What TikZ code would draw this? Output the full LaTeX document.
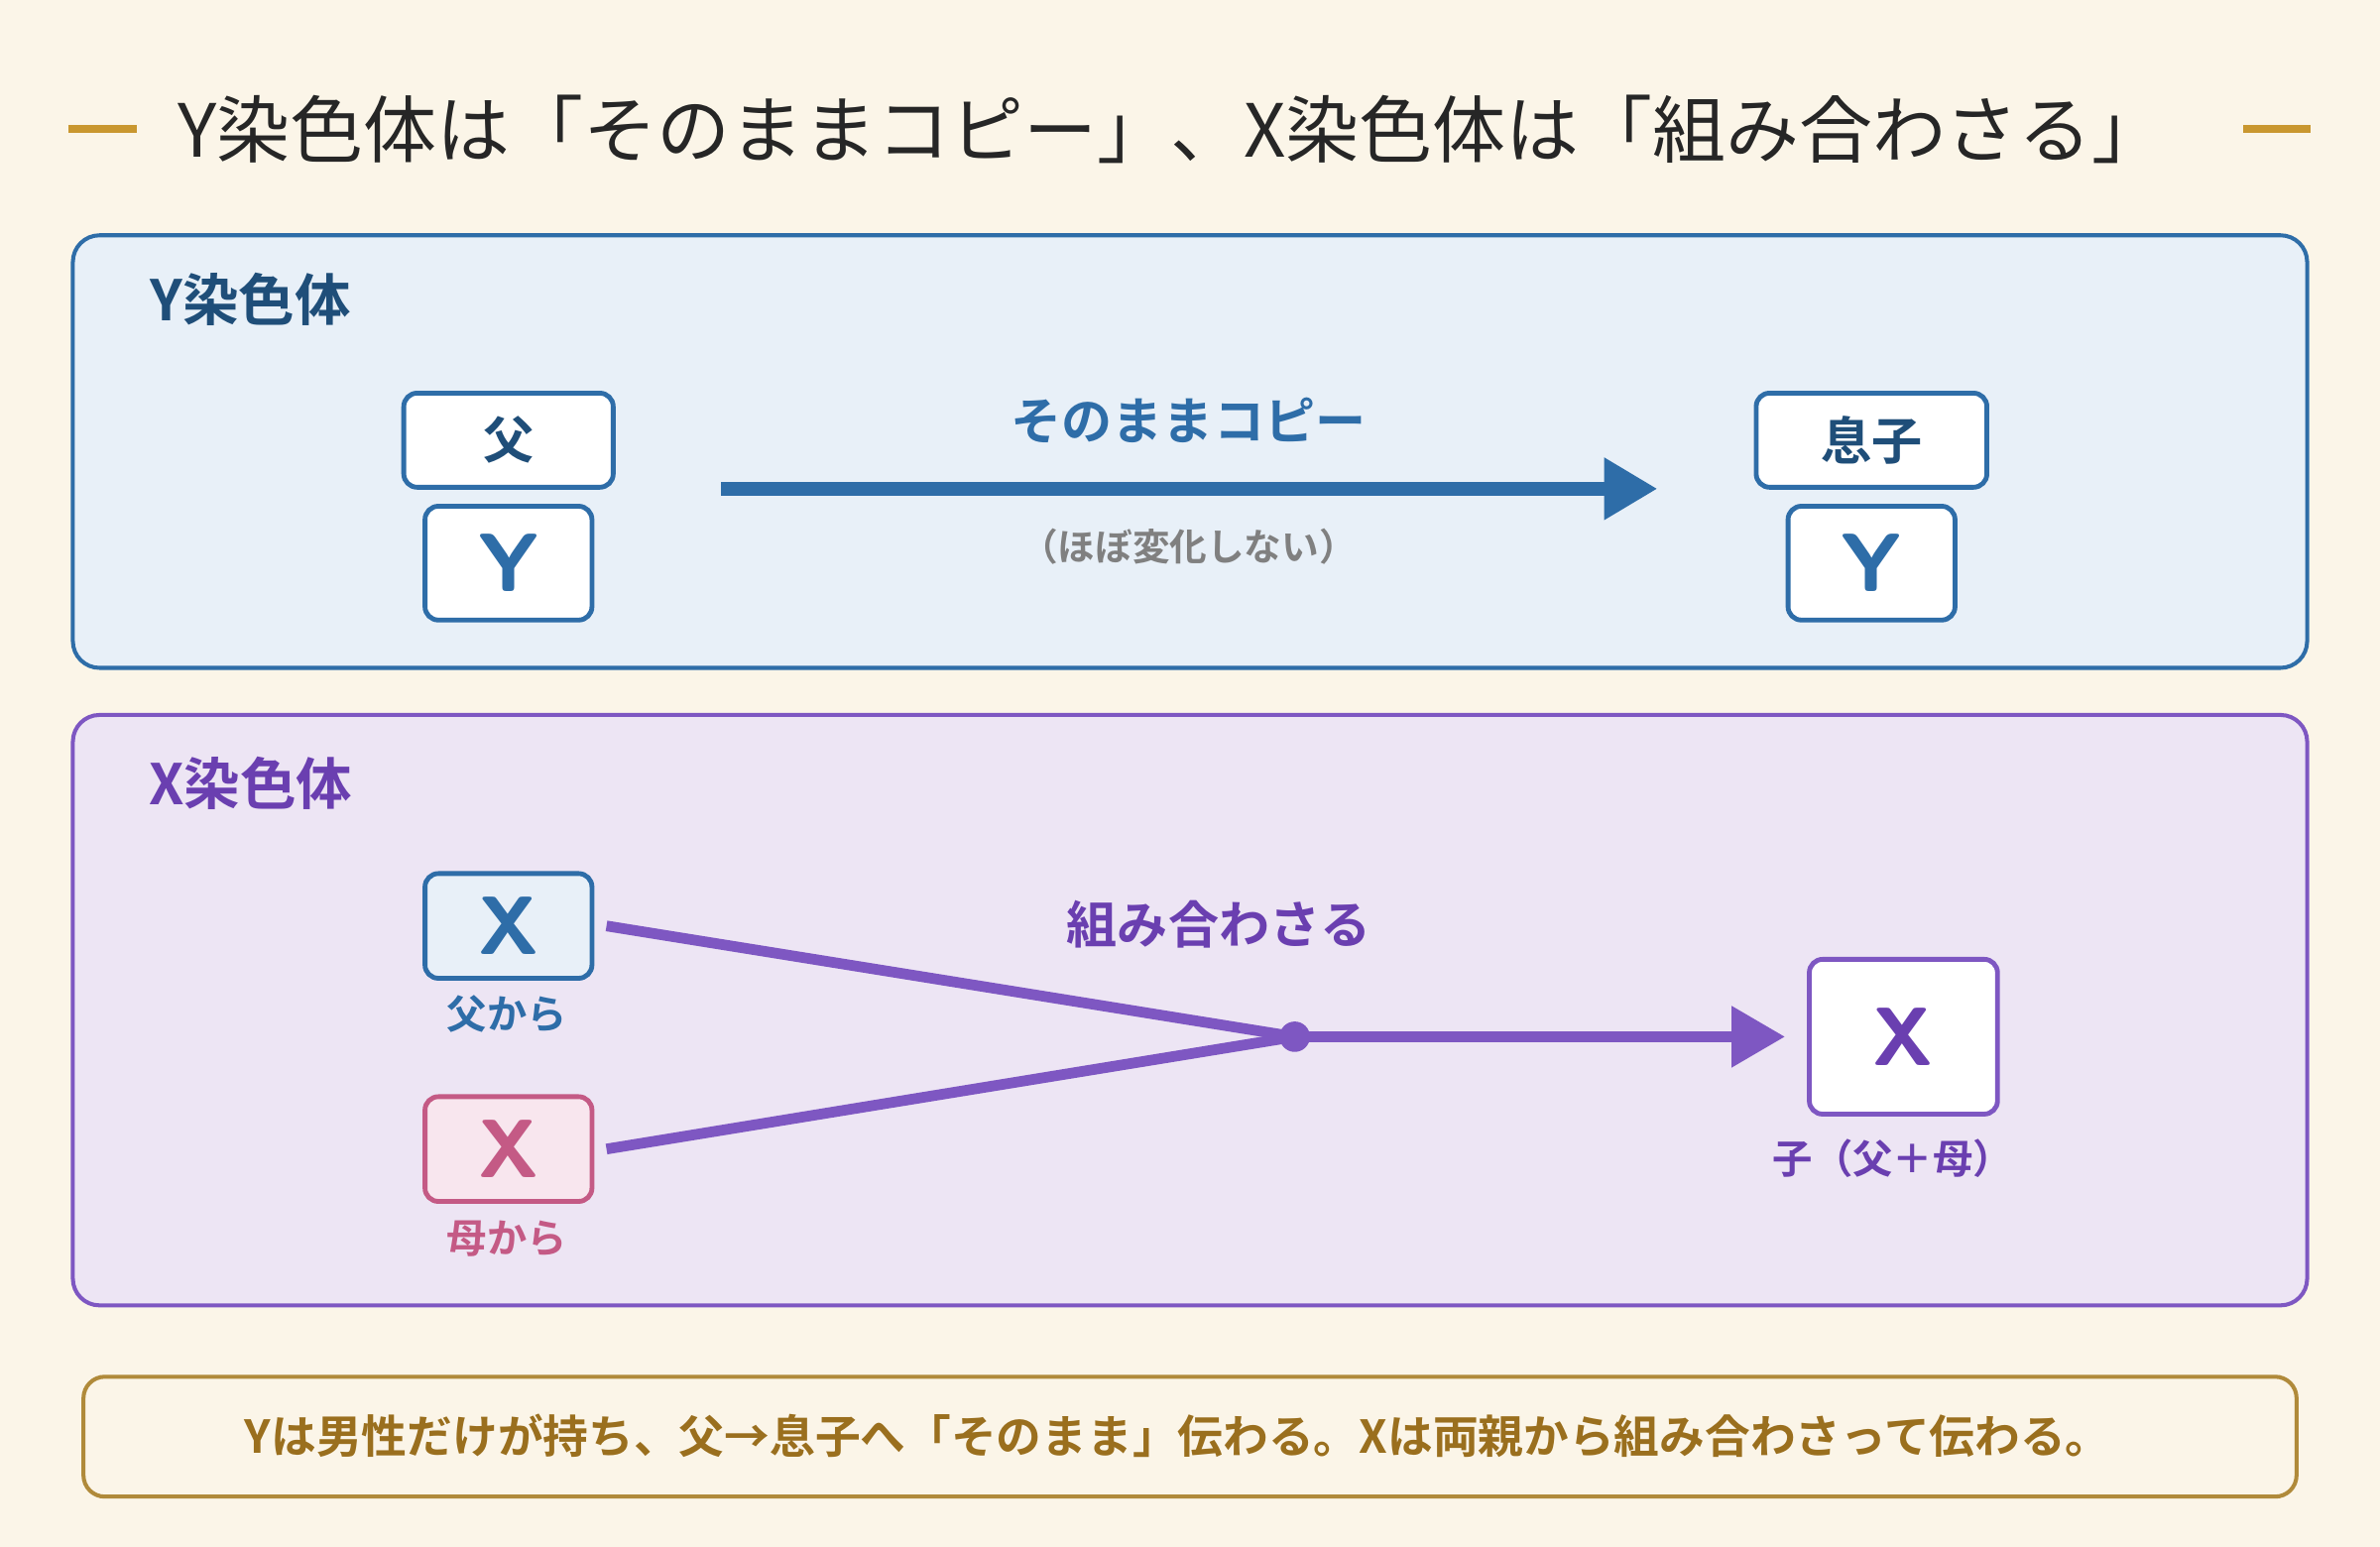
\documentclass[tikz,border=0pt]{standalone}
\usepackage{fontspec}
\setmainfont{Noto Sans CJK JP}
\newfontfamily\jpb{Noto Sans CJK JP Bold}
\usetikzlibrary{arrows.meta}
\definecolor{bg}{HTML}{FBF5E8}
\definecolor{gold}{HTML}{C9972F}
\definecolor{bblue}{HTML}{2E6DA8}
\definecolor{navy}{HTML}{1F4E79}
\definecolor{bfill}{HTML}{E8F0F8}
\definecolor{purp}{HTML}{7E57C2}
\definecolor{dpurp}{HTML}{6A3FB0}
\definecolor{pfill}{HTML}{EDE5F4}
\definecolor{pink}{HTML}{C45A85}
\definecolor{pinkfill}{HTML}{F8E6EE}
\definecolor{brown}{HTML}{9A6F1E}
\definecolor{bborder}{HTML}{B08A3A}
\begin{document}
\begin{tikzpicture}[x=0.02cm,y=-0.02cm,
 box/.style={line width=1.8pt,rounded corners=5pt,fill=white},
 lbl/.style={font=\jpb\fontsize{15}{15}\selectfont},
 big/.style={font=\sffamily\bfseries\fontsize{31}{31}\selectfont}]
\fill[bg] (0,0) rectangle (1568,1019);
\node[text=black!85] (title) at (772,85) {\fontsize{27.5}{27.5}\selectfont Y染色体は「そのままコピー」、X染色体は「組み合わさる」};
\coordinate (l1) at (45,85); \coordinate (l2) at (90,85);
\coordinate (r1) at (1478,85); \coordinate (r2) at (1522,85);
\draw[gold,line width=3pt] (l1)--(l2) (r1)--(r2);
% Y panel
\draw[bblue,fill=bfill,line width=1.5pt,rounded corners=10pt] (48,155) rectangle (1520,440);
\node[text=navy,font=\jpb\fontsize{21}{21}\selectfont] (yh) at (165,197) {Y染色体};
\node[box,draw=bblue,minimum width=2.76cm,minimum height=1.24cm,text=navy,font=\jpb\fontsize{19}{19}\selectfont] (fa) at (335,290) {父};
\node[box,draw=bblue,minimum width=2.2cm,minimum height=1.5cm,text=bblue,big] (fy) at (335,371) {Y};
\node[box,draw=bblue,minimum width=3.04cm,minimum height=1.24cm,text=navy,font=\jpb\fontsize{19}{19}\selectfont] (so) at (1233,290) {息子};
\node[box,draw=bblue,minimum width=2.2cm,minimum height=1.5cm,text=bblue,big] (sy) at (1233,371) {Y};
\coordinate (ya) at (475,322); \coordinate (yb) at (1092,322);
\draw[bblue,line width=5pt,-{Triangle[length=20pt,width=22pt]}] (ya)--(yb);
\node[text=bblue,font=\jpb\fontsize{19}{19}\selectfont] (cp) at (783,277) {そのままコピー};
\node[text=gray,font=\jpb\fontsize{14}{14}\selectfont] (hb) at (783,360) {（ほぼ変化しない）};
% X panel
\draw[purp,fill=pfill,line width=1.5pt,rounded corners=10pt] (48,471) rectangle (1520,860);
\node[text=dpurp,font=\jpb\fontsize{21}{21}\selectfont] (xh) at (165,516) {X染色体};
\node[box,draw=bblue,fill=bfill,minimum width=2.2cm,minimum height=1.38cm,text=bblue,big] (fx) at (335,610) {X};
\node[text=bblue,lbl] (fk) at (334,668) {父から};
\node[box,draw=pink,fill=pinkfill,minimum width=2.2cm,minimum height=1.38cm,text=pink,big] (mx) at (335,757) {X};
\node[text=pink,lbl] (mk) at (334,816) {母から};
\node[box,draw=purp,minimum width=2.48cm,minimum height=2.04cm,text=dpurp,big] (cx) at (1254,683) {X};
\node[text=dpurp,lbl] (ck) at (1247,763) {子（父＋母）};
\node[text=dpurp,font=\jpb\fontsize{19}{19}\selectfont] (km) at (803,609) {組み合わさる};
\coordinate (j) at (853,683);
\draw[purp,line width=4pt] (fx.east)++(8,0) coordinate (fe) (fe)--(j);
\draw[purp,line width=4pt] (mx.east)++(8,0) coordinate (me) (me)--(j);
\fill[purp] (j) circle (10);
\coordinate (xe) at (1176,683);
\draw[purp,line width=4pt,-{Triangle[length=20pt,width=22pt]}] (j)--(xe);
% bottom
\draw[bborder,fill=bg,line width=1.5pt,rounded corners=8pt] (55,907) rectangle (1513,986);
\node[text=brown,font=\jpb\fontsize{17}{17}\selectfont] (bt) at (776,946) {Yは男性だけが持ち、父→息子へ「そのまま」伝わる。Xは両親から組み合わさって伝わる。};
\end{tikzpicture}
\end{document}
